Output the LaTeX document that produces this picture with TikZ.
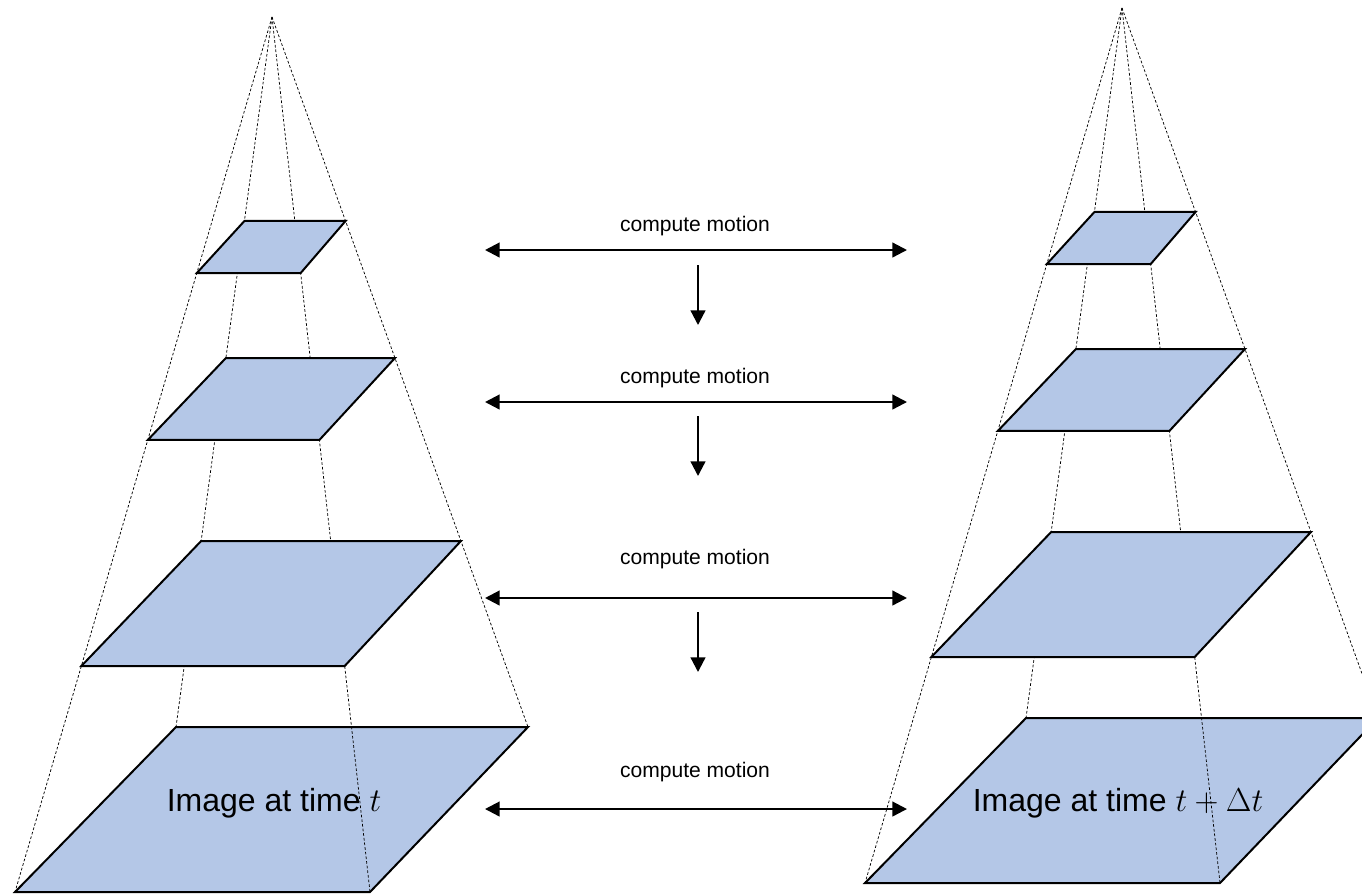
\documentclass[tikz,border=0pt]{standalone}
\usepackage{fontspec}
\setmainfont{Liberation Sans}
\usetikzlibrary{calc,arrows.meta}
\definecolor{layerblue}{RGB}{180,199,231}

\begin{document}
\begin{tikzpicture}[x=0.75pt, y=-0.75pt,
	layer/.style={fill=layerblue, draw=black, line width=1.5pt},
	ray/.style={dash pattern=on 2pt off 1.5pt, line width=0.55pt},
	motion/.style={line width=1.7pt, {Triangle[length=11pt,width=11pt]}-{Triangle[length=11pt,width=11pt]}},
	refine/.style={line width=1.7pt, -{Triangle[length=11pt,width=11pt]}},
	lbl/.style={font=\fontsize{15.8}{19}\selectfont},
	big/.style={font=\fontsize{24}{29}\selectfont, anchor=base}]
		\useasboundingbox (0,0) rectangle (1362,894);
		\clip (0,0) rectangle (1362,894);
		
		% the two pyramids
		\foreach \side/\dx/\dy in {left/0/0, right/850/-9} {
			\begin{scope}[shift={(\dx,\dy)}]
				\coordinate (\side-apex) at (272,17);
				\coordinate (\side-tl) at (176,727);
				\coordinate (\side-tr) at (528,727);
				\coordinate (\side-br) at (370,892);
				\coordinate (\side-bl) at (15,892);
			\end{scope}
			\draw[layer] (\side-tl) -- (\side-tr) -- (\side-br) -- (\side-bl) -- cycle;
			\foreach \c in {tl,tr,br,bl}
				\draw[ray] (\side-apex) -- (\side-\c);
			\foreach \ft/\fb in {0.2873/0.2926, 0.4803/0.4834, 0.7380/0.7417}
				\draw[layer] ($(\side-apex)!\ft!(\side-tl)$) -- ($(\side-apex)!\ft!(\side-tr)$)
					-- ($(\side-apex)!\fb!(\side-br)$) -- ($(\side-apex)!\fb!(\side-bl)$) -- cycle;
		}
		
		\node[big] (img-t) at (274,811) {Image at time $t$};
		\node[big] (img-dt) at (1118,811) {Image at time $t+\Delta t$};
		
		% motion between levels
		\foreach \k/\y/\ly in {1/250/226, 2/402/378, 3/598/559, 4/809/772} {
			\coordinate (m\k-l) at (485,\y);
			\coordinate (m\k-r) at (907,\y);
			\draw[motion] (m\k-l) -- (m\k-r);
			\node[lbl] (lab\k) at (695,\ly) {compute motion};
		}
		\foreach \k/\ya in {1/265, 2/416, 3/612} {
			\coordinate (d\k-s) at (698,\ya);
			\coordinate (d\k-e) at (698,\ya+60);
			\draw[refine] (d\k-s) -- (d\k-e);
		}
\end{tikzpicture}
\end{document}
